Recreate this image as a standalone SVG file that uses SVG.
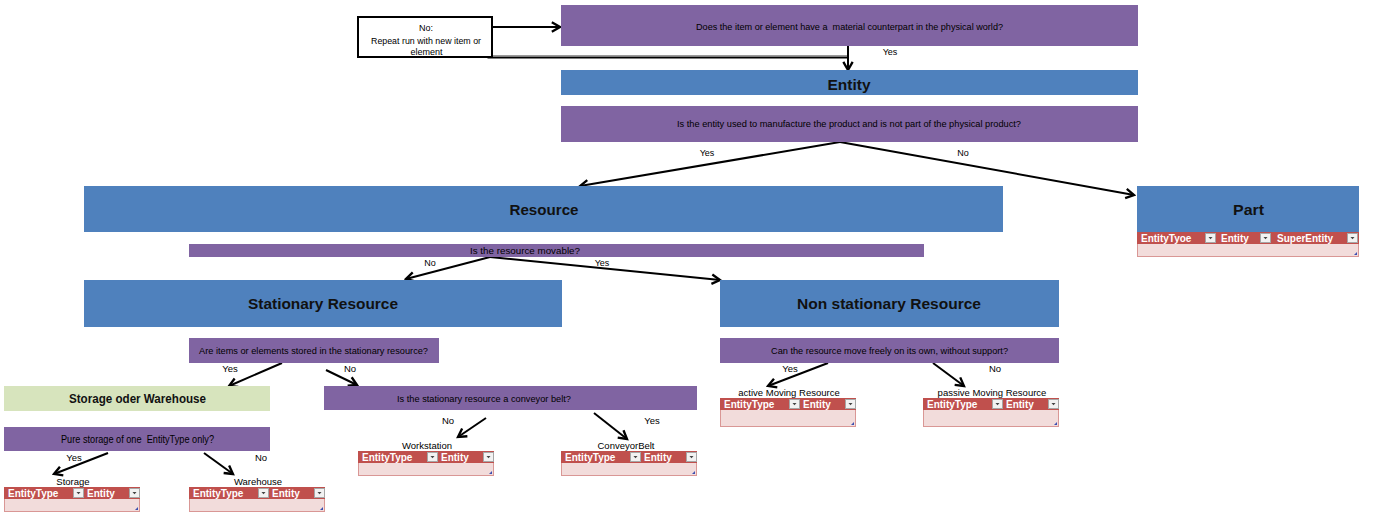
<svg xmlns="http://www.w3.org/2000/svg" xmlns:xlink="http://www.w3.org/1999/xlink" width="1376" height="521" viewBox="0 0 1376 521">
  <style>
    .q { fill: #8064A2; }
    .b { fill: #4F81BD; }
    .g { fill: #D7E4BD; }
    .qt { font-family: "Liberation Sans", Arial, sans-serif; font-size: 9px; fill: #000; text-anchor: middle; }
    .ht { font-family: "Liberation Sans", Arial, sans-serif; font-size: 15px; font-weight: bold; fill: #111; text-anchor: middle; }
    .lb { font-family: "Liberation Sans", Arial, sans-serif; font-size: 9.5px; fill: #000; text-anchor: middle; }
    .th { font-family: "Liberation Sans", Arial, sans-serif; font-size: 10px; font-weight: bold; fill: #fff; }
    .hd { fill: #C0504D; }
    .bd { fill: #F2DCDB; stroke: #D99795; stroke-width: 1; }
    .btn { fill: #F2F2F2; stroke: #A6A6A6; stroke-width: 1; }
    .tri { fill: #444; }
    .grip { fill: #3D4FB0; }
    .con { stroke: #000; stroke-width: 2; fill: none; marker-end: url(#arr); }
    .ln { stroke: #000; stroke-width: 2; fill: none; }
  </style>
  <defs>
    <marker id="arr" markerUnits="userSpaceOnUse" markerWidth="14" markerHeight="14" viewBox="-10 -6 12 12" refX="0" refY="0" orient="auto">
      <path d="M-7,-4 L0,0 L-7,4" fill="none" stroke="#000" stroke-width="2"/>
    </marker>
    <!-- dropdown button of a table header cell -->
    <g id="dd">
      <rect class="btn" x="0.5" y="1.5" width="10" height="9"/>
      <path class="tri" d="M3.5,5 h4 l-2,2.2 z"/>
    </g>
    <!-- two-column header: EntityType | Entity -->
    <g id="hdr2">
      <rect class="hd" x="0" y="0" width="136" height="12"/>
      <text class="th" x="4" y="10">EntityType</text>
      <use xlink:href="#dd" x="69" y="0"/>
      <text class="th" x="83" y="10">Entity</text>
      <use xlink:href="#dd" x="125" y="0"/>
    </g>
  </defs>

  <rect width="1376" height="521" fill="#fff"/>

  <!-- connectors -->
  <g id="connectors">
    <line class="con" x1="487.5" y1="27" x2="560" y2="27"/>
    <line x1="490" y1="55.5" x2="848" y2="55.5" stroke="#9a9a9a" stroke-width="1"/>
    <line class="ln" x1="487.5" y1="57.5" x2="849" y2="57.5"/>
    <line x1="487.5" y1="27" x2="487.5" y2="58" stroke="#000" stroke-width="1.5"/>
    <line class="con" x1="848" y1="46" x2="848" y2="70"/>
    <line class="con" x1="840" y1="142" x2="580" y2="186"/>
    <line class="con" x1="840" y1="142" x2="1134" y2="195"/>
    <line class="con" x1="490" y1="257" x2="406" y2="279"/>
    <line class="con" x1="490" y1="257" x2="720" y2="280"/>
    <line class="con" x1="282" y1="363" x2="229" y2="386"/>
    <line class="con" x1="326" y1="370" x2="357" y2="385"/>
    <line class="con" x1="108" y1="453" x2="54" y2="474"/>
    <line class="con" x1="204" y1="453" x2="233" y2="474"/>
    <line class="con" x1="486" y1="418" x2="458" y2="437"/>
    <line class="con" x1="594" y1="413" x2="627" y2="439"/>
    <line class="con" x1="828" y1="363" x2="768" y2="386"/>
    <line class="con" x1="933" y1="363" x2="964" y2="386"/>
    <!-- branch labels -->
    <text class="qt" x="890" y="55">Yes</text>
    <text class="qt" x="707" y="156">Yes</text>
    <text class="qt" x="963" y="156">No</text>
    <text class="qt" x="430" y="266">No</text>
    <text class="qt" x="602" y="266">Yes</text>
    <text class="lb" x="230" y="372">Yes</text>
    <text class="lb" x="350" y="372">No</text>
    <text class="lb" x="790" y="372">Yes</text>
    <text class="lb" x="995" y="372">No</text>
    <text class="lb" x="74" y="461">Yes</text>
    <text class="lb" x="261" y="461">No</text>
    <text class="lb" x="448" y="424">No</text>
    <text class="lb" x="652" y="424">Yes</text>
  </g>

  <g id="retry">
    <rect x="358" y="17" width="134" height="40" fill="#fff" stroke="#000" stroke-width="2"/>
    <text class="qt" x="426" y="31">No:</text>
    <text class="qt" x="426" y="44" textLength="110" lengthAdjust="spacingAndGlyphs">Repeat run with new item or</text>
    <text class="qt" x="426.5" y="55">element</text>
  </g>

  <g id="q-material">
    <rect class="q" x="561" y="5" width="577" height="41"/>
    <text class="qt" x="849.5" y="30" textLength="307" lengthAdjust="spacingAndGlyphs">Does the item or element have a&#160; material counterpart in the physical world?</text>
  </g>

  <g id="entity">
    <rect class="b" x="561" y="70" width="577" height="25"/>
    <text class="ht" x="849" y="90" textLength="43" lengthAdjust="spacingAndGlyphs">Entity</text>
  </g>

  <g id="q-manufacture">
    <rect class="q" x="561" y="106" width="577" height="36"/>
    <text class="qt" x="849" y="127" textLength="344" lengthAdjust="spacingAndGlyphs">Is the entity used to manufacture the product and is not part of the physical product?</text>
  </g>

  <g id="resource">
    <rect class="b" x="84" y="186" width="919" height="46"/>
    <text class="ht" x="544" y="215" textLength="69" lengthAdjust="spacingAndGlyphs">Resource</text>
  </g>

  <g id="part">
    <rect class="b" x="1137" y="186" width="222" height="46"/>
    <text class="ht" x="1248.5" y="215" textLength="31" lengthAdjust="spacingAndGlyphs">Part</text>
    <rect class="bd" x="1137.5" y="232.5" width="221" height="24"/>
    <rect class="hd" x="1137" y="232" width="222" height="12"/>
    <text class="th" x="1141" y="242">EntityTyoe</text>
    <use xlink:href="#dd" x="1205" y="232"/>
    <text class="th" x="1221" y="242">Entity</text>
    <use xlink:href="#dd" x="1260" y="232"/>
    <text class="th" x="1277" y="242">SuperEntity</text>
    <use xlink:href="#dd" x="1347" y="232"/>
    <path class="grip" d="M1357,252 v3 h-3 z"/>
  </g>

  <g id="q-movable">
    <rect class="q" x="189" y="244" width="735" height="13"/>
    <text class="qt" x="525" y="253.5" textLength="110" lengthAdjust="spacingAndGlyphs">Is the resource movable?</text>
  </g>

  <g id="stationary">
    <rect class="b" x="84" y="280" width="478" height="47"/>
    <text class="ht" x="323" y="309" textLength="150" lengthAdjust="spacingAndGlyphs">Stationary Resource</text>
  </g>

  <g id="non-stationary">
    <rect class="b" x="720" y="280" width="339" height="47"/>
    <text class="ht" x="889" y="309" textLength="184" lengthAdjust="spacingAndGlyphs">Non stationary Resource</text>
  </g>

  <g id="q-stored">
    <rect class="q" x="189" y="338" width="250" height="25"/>
    <text class="qt" x="313.5" y="353.5" style="font-size:9.5px" textLength="229" lengthAdjust="spacingAndGlyphs">Are items or elements stored in the stationary resource?</text>
  </g>

  <g id="q-free">
    <rect class="q" x="720" y="338" width="339" height="25"/>
    <text class="qt" x="889.5" y="353.5" style="font-size:9.5px" textLength="237" lengthAdjust="spacingAndGlyphs">Can the resource move freely on its own, without support?</text>
  </g>

  <g id="storage-warehouse">
    <rect class="g" x="4" y="386" width="266" height="25"/>
    <text class="ht" x="137.5" y="403" style="font-size:12px" textLength="137" lengthAdjust="spacingAndGlyphs">Storage oder Warehouse</text>
  </g>

  <g id="q-conveyor">
    <rect class="q" x="324" y="386" width="373" height="24"/>
    <text class="qt" x="484" y="401.5" style="font-size:9.5px" textLength="174" lengthAdjust="spacingAndGlyphs">Is the stationary resource a conveyor belt?</text>
  </g>

  <g id="q-pure">
    <rect class="q" x="4" y="427" width="266" height="24"/>
    <text class="qt" x="137.5" y="442.5" style="font-size:10px" textLength="153" lengthAdjust="spacingAndGlyphs">Pure storage of one&#160; EntityType only?</text>
  </g>

  <g id="active-moving">
    <text class="lb" x="789" y="396">active Moving Resource</text>
    <rect class="bd" x="720.5" y="398.5" width="135" height="28"/>
    <use xlink:href="#hdr2" x="720" y="398"/>
    <path class="grip" d="M854,422 v3 h-3 z"/>
  </g>

  <g id="passive-moving">
    <text class="lb" x="992" y="396">passive Moving Resource</text>
    <rect class="bd" x="923.5" y="398.5" width="135" height="28"/>
    <use xlink:href="#hdr2" x="923" y="398"/>
    <path class="grip" d="M1057,422 v3 h-3 z"/>
  </g>

  <g id="workstation">
    <text class="lb" x="427" y="449">Workstation</text>
    <rect class="bd" x="358.5" y="451.5" width="135" height="24"/>
    <use xlink:href="#hdr2" x="358" y="451"/>
    <path class="grip" d="M492,471 v3 h-3 z"/>
  </g>

  <g id="conveyor-belt">
    <text class="lb" x="626" y="449">ConveyorBelt</text>
    <rect class="bd" x="561.5" y="451.5" width="135" height="24"/>
    <use xlink:href="#hdr2" x="561" y="451"/>
    <path class="grip" d="M695,471 v3 h-3 z"/>
  </g>

  <g id="storage">
    <text class="lb" x="73" y="485">Storage</text>
    <rect class="bd" x="4.5" y="487.5" width="135" height="24"/>
    <use xlink:href="#hdr2" x="4" y="487"/>
    <path class="grip" d="M138,507 v3 h-3 z"/>
  </g>

  <g id="warehouse">
    <text class="lb" x="258" y="485">Warehouse</text>
    <rect class="bd" x="189.5" y="487.5" width="135" height="24"/>
    <use xlink:href="#hdr2" x="189" y="487"/>
    <path class="grip" d="M323,507 v3 h-3 z"/>
  </g>
</svg>
